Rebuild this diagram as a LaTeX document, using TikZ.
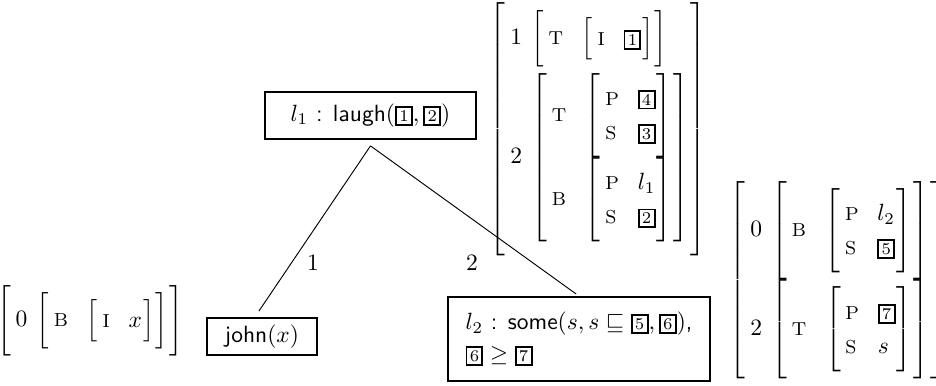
\documentclass[tikz,border=0pt]{standalone}
\usetikzlibrary{positioning, calc}
\renewcommand{\arraystretch}{1.2}
\newlength{\avmpad}
\setlength{\avmpad}{2.5pt}
\newlength{\lstpad}
\setlength{\lstpad}{2.5pt}
% boxed tags and attribute-value matrices
\newcommand{\tg}[1]{{\setlength{\fboxsep}{1pt}\setlength{\fboxrule}{0.8pt}\fbox{\normalfont\scriptsize #1}}}
\newcommand{\fstr}[1]{\left[\vcenter{\vskip\avmpad\hbox{$\delimiterfactor=901 \begin{array}{@{\hspace{2pt}}l@{\hspace{8pt}}l@{\hspace{0.5pt}}}#1\end{array}$}\vskip\avmpad}\right]}
\newcommand{\flist}[1]{\left[\vcenter{\vskip\lstpad\hbox{$\delimiterfactor=901 \begin{array}{@{\hspace{2pt}}l@{\hspace{4pt}}l@{\hspace{0.5pt}}}#1\end{array}$}\vskip\lstpad}\right]}
\newcommand{\at}[1]{\mbox{\footnotesize #1}}
\begin{document}
\begin{tikzpicture}[x=0.4255pt, y=-0.4255pt,
pred/.style={rectangle, draw=black, line width=0.85pt, inner xsep=7.5pt, inner ysep=2.9pt, font=\sffamily},
avm/.style={inner sep=0pt},
lab/.style={inner sep=0pt}]
\useasboundingbox (0,0) rectangle (936,385);
% tree
\node (laugh) [pred, minimum width=89.8pt, minimum height=20pt] at (370.5,115.5) {$l_1$ : laugh$(\tg{1}, \tg{2})$};
\node (john) [pred] at (262,336.5) {john$(x)$};
\node (some) [pred, align=left, minimum height=35.7pt] at (579,339) {$l_2$ : some$(s, s \sqsubseteq \tg{5}, \tg{6})$,\\[1.6pt] $\tg{6} \geq \tg{7}$};
\coordinate (top) at ([yshift=-2.5pt]laugh.south);
\path (top) edge[shorten >=3pt] ([xshift=-3pt]john.north);
\path (top) edge[shorten >=1.5pt] (some.north);
\node (lab1) [lab] at (313,263) {1};
\node (lab2) [lab] at (472,263) {2};
% feature structures
\node (avmLaugh) [avm, font={\delimiterfactor=1000 \setlength{\lstpad}{0.5pt}}] at (598,129) {$\flist{1 & \fstr{\at{T} & \fstr{\at{I} & \tg{1}}} \\
  2 & \fstr{\at{T} & \fstr{\at{P} & \tg{4} \\ \at{S} & \tg{3}} \\
             \at{B} & \fstr{\at{P} & l_1 \\ \at{S} & \tg{2}}}}$};
\node (avmJohn) [avm] at (90,321) {$\flist{0 & \fstr{\at{B} & \fstr{\at{I} & x}}}$};
\node (avmSome) [avm] at (838,280) {$\flist{0 & \fstr{\at{B} & \fstr{\at{P} & l_2 \\ \at{S} & \tg{5}}} \\
  2 & \fstr{\at{T} & \fstr{\at{P} & \tg{7} \\ \at{S} & s}}}$};
\end{tikzpicture}
\end{document}
